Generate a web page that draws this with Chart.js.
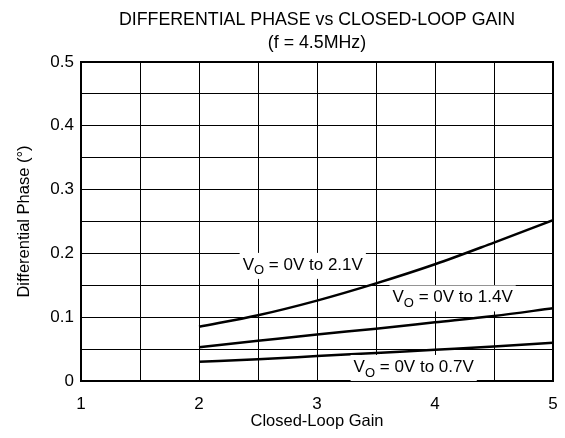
<!DOCTYPE html>
<html>
<head>
<meta charset="utf-8">
<script src="https://cdn.jsdelivr.net/npm/chart.js@4.4.0/dist/chart.umd.min.js"></script>
<style>
  html, body { margin: 0; padding: 0; background: #fff; }
  #wrap { width: 565px; height: 438px; }
</style>
</head>
<body>
<div id="wrap"><canvas id="fig"></canvas></div>
<script>
// closed-loop gain values where the curves were read
const gain = [2, 2.5, 3, 3.5, 4, 4.5, 5];

// differential phase (degrees) for each output swing
const phase21 = [0.085, 0.103, 0.126, 0.153, 0.183, 0.217, 0.252];
const phase14 = [0.053, 0.063, 0.073, 0.082, 0.092, 0.102, 0.114];
const phase07 = [0.030, 0.034, 0.039, 0.044, 0.049, 0.054, 0.060];

const seriesNames = ['0V to 2.1V', '0V to 1.4V', '0V to 0.7V'];
const titleLines = ['DIFFERENTIAL PHASE vs CLOSED-LOOP GAIN', '(f = 4.5MHz)'];

function toPoints(values) {
  return gain.map((g, i) => ({ x: g, y: values[i] }));
}

function makeSet(label, values) {
  return {
    label,
    data: toPoints(values),
    borderColor: '#000',
    borderWidth: 2.5,
    pointRadius: 0,
    cubicInterpolationMode: 'monotone',
    fill: false,
  };
}

// curve labels: "V" + subscript "O" + text, anchored in data coordinates
const curveLabels = [
  { text: seriesNames[0], x: 2.37, y: 0.182 },
  { text: seriesNames[1], x: 3.64, y: 0.131 },
  { text: seriesNames[2], x: 3.31, y: 0.022 },
];

const FAMILY = '"Liberation Sans", Arial, sans-serif';
const labelFont = '17px ' + FAMILY;
const subFont = '13px ' + FAMILY;

// title is centred over the plot area, like the original figure
const titleAndFrame = {
  id: 'titleAndFrame',
  afterDraw(chart) {
    const { ctx, chartArea, scales } = chart;
    ctx.save();
    ctx.strokeStyle = '#000';
    ctx.lineWidth = 2;
    ctx.strokeRect(chartArea.left, chartArea.top,
      chartArea.right - chartArea.left, chartArea.bottom - chartArea.top);

    const cx = (chartArea.left + chartArea.right) / 2;
    ctx.fillStyle = '#000';
    ctx.textAlign = 'center';
    ctx.textBaseline = 'middle';
    ctx.font = '17.8px ' + FAMILY;
    ctx.fillText(titleLines[0], cx, 20);
    ctx.fillText(titleLines[1], cx, 43);

    ctx.textAlign = 'left';
    curveLabels.forEach((l) => {
      const x0 = scales.x.getPixelForValue(l.x);
      const py = scales.y.getPixelForValue(l.y);
      const rest = ' = ' + l.text;
      ctx.font = labelFont;
      const wV = ctx.measureText('V').width;
      const wR = ctx.measureText(rest).width;
      ctx.font = subFont;
      const wO = ctx.measureText('O').width;

      ctx.fillStyle = '#fff';
      ctx.fillRect(x0 - 3, py - 12, wV + wO + wR + 6, 26);

      ctx.fillStyle = '#000';
      let px = x0;
      ctx.font = labelFont;
      ctx.fillText('V', px, py);
      px += wV;
      ctx.font = subFont;
      ctx.fillText('O', px, py + 6);
      px += wO;
      ctx.font = labelFont;
      ctx.fillText(rest, px, py);
    });
    ctx.restore();
  },
};

const font = { family: FAMILY };

new Chart(document.getElementById('fig'), {
  type: 'line',
  data: {
    datasets: [
      makeSet(seriesNames[0], phase21),
      makeSet(seriesNames[1], phase14),
      makeSet(seriesNames[2], phase07),
    ],
  },
  options: {
    responsive: true,
    maintainAspectRatio: false,
    animation: false,
    layout: { padding: { left: 0, right: 12, top: 62, bottom: 0 } },
    plugins: {
      legend: { display: false },
      tooltip: { enabled: false },
      title: { display: false },
    },
    scales: {
      x: {
        type: 'linear',
        min: 1,
        max: 5,
        ticks: {
          stepSize: 0.5,
          color: '#000',
          font: { ...font, size: 17 },
          padding: 13,
          maxRotation: 0,
          callback: (v) => (Number.isInteger(v) ? String(v) : ''),
        },
        grid: { color: '#000', lineWidth: 1, drawTicks: false },
        border: { display: false },
        title: {
          display: true,
          text: 'Closed-Loop Gain',
          color: '#000',
          font: { ...font, size: 16.5 },
          padding: { top: 4, bottom: 7 },
        },
        afterFit(scale) {
          scale.height = 57;
          scale.paddingLeft = 0;
          scale.paddingRight = 0;
        },
      },
      y: {
        min: 0,
        max: 0.5,
        ticks: {
          stepSize: 0.05,
          color: '#000',
          font: { ...font, size: 17 },
          padding: 7,
          callback: (v) => {
            const r = Math.round(v * 100);
            return r % 10 === 0 ? String(r / 100) : '';
          },
        },
        grid: { color: '#000', lineWidth: 1, drawTicks: false },
        border: { display: false },
        title: {
          display: true,
          text: 'Differential Phase (°)',
          color: '#000',
          font: { ...font, size: 16.5 },
          padding: { top: 15, bottom: 4 },
        },
        afterFit(scale) { scale.width = 81; },
      },
    },
  },
  plugins: [titleAndFrame],
});
</script>
</body>
</html>
